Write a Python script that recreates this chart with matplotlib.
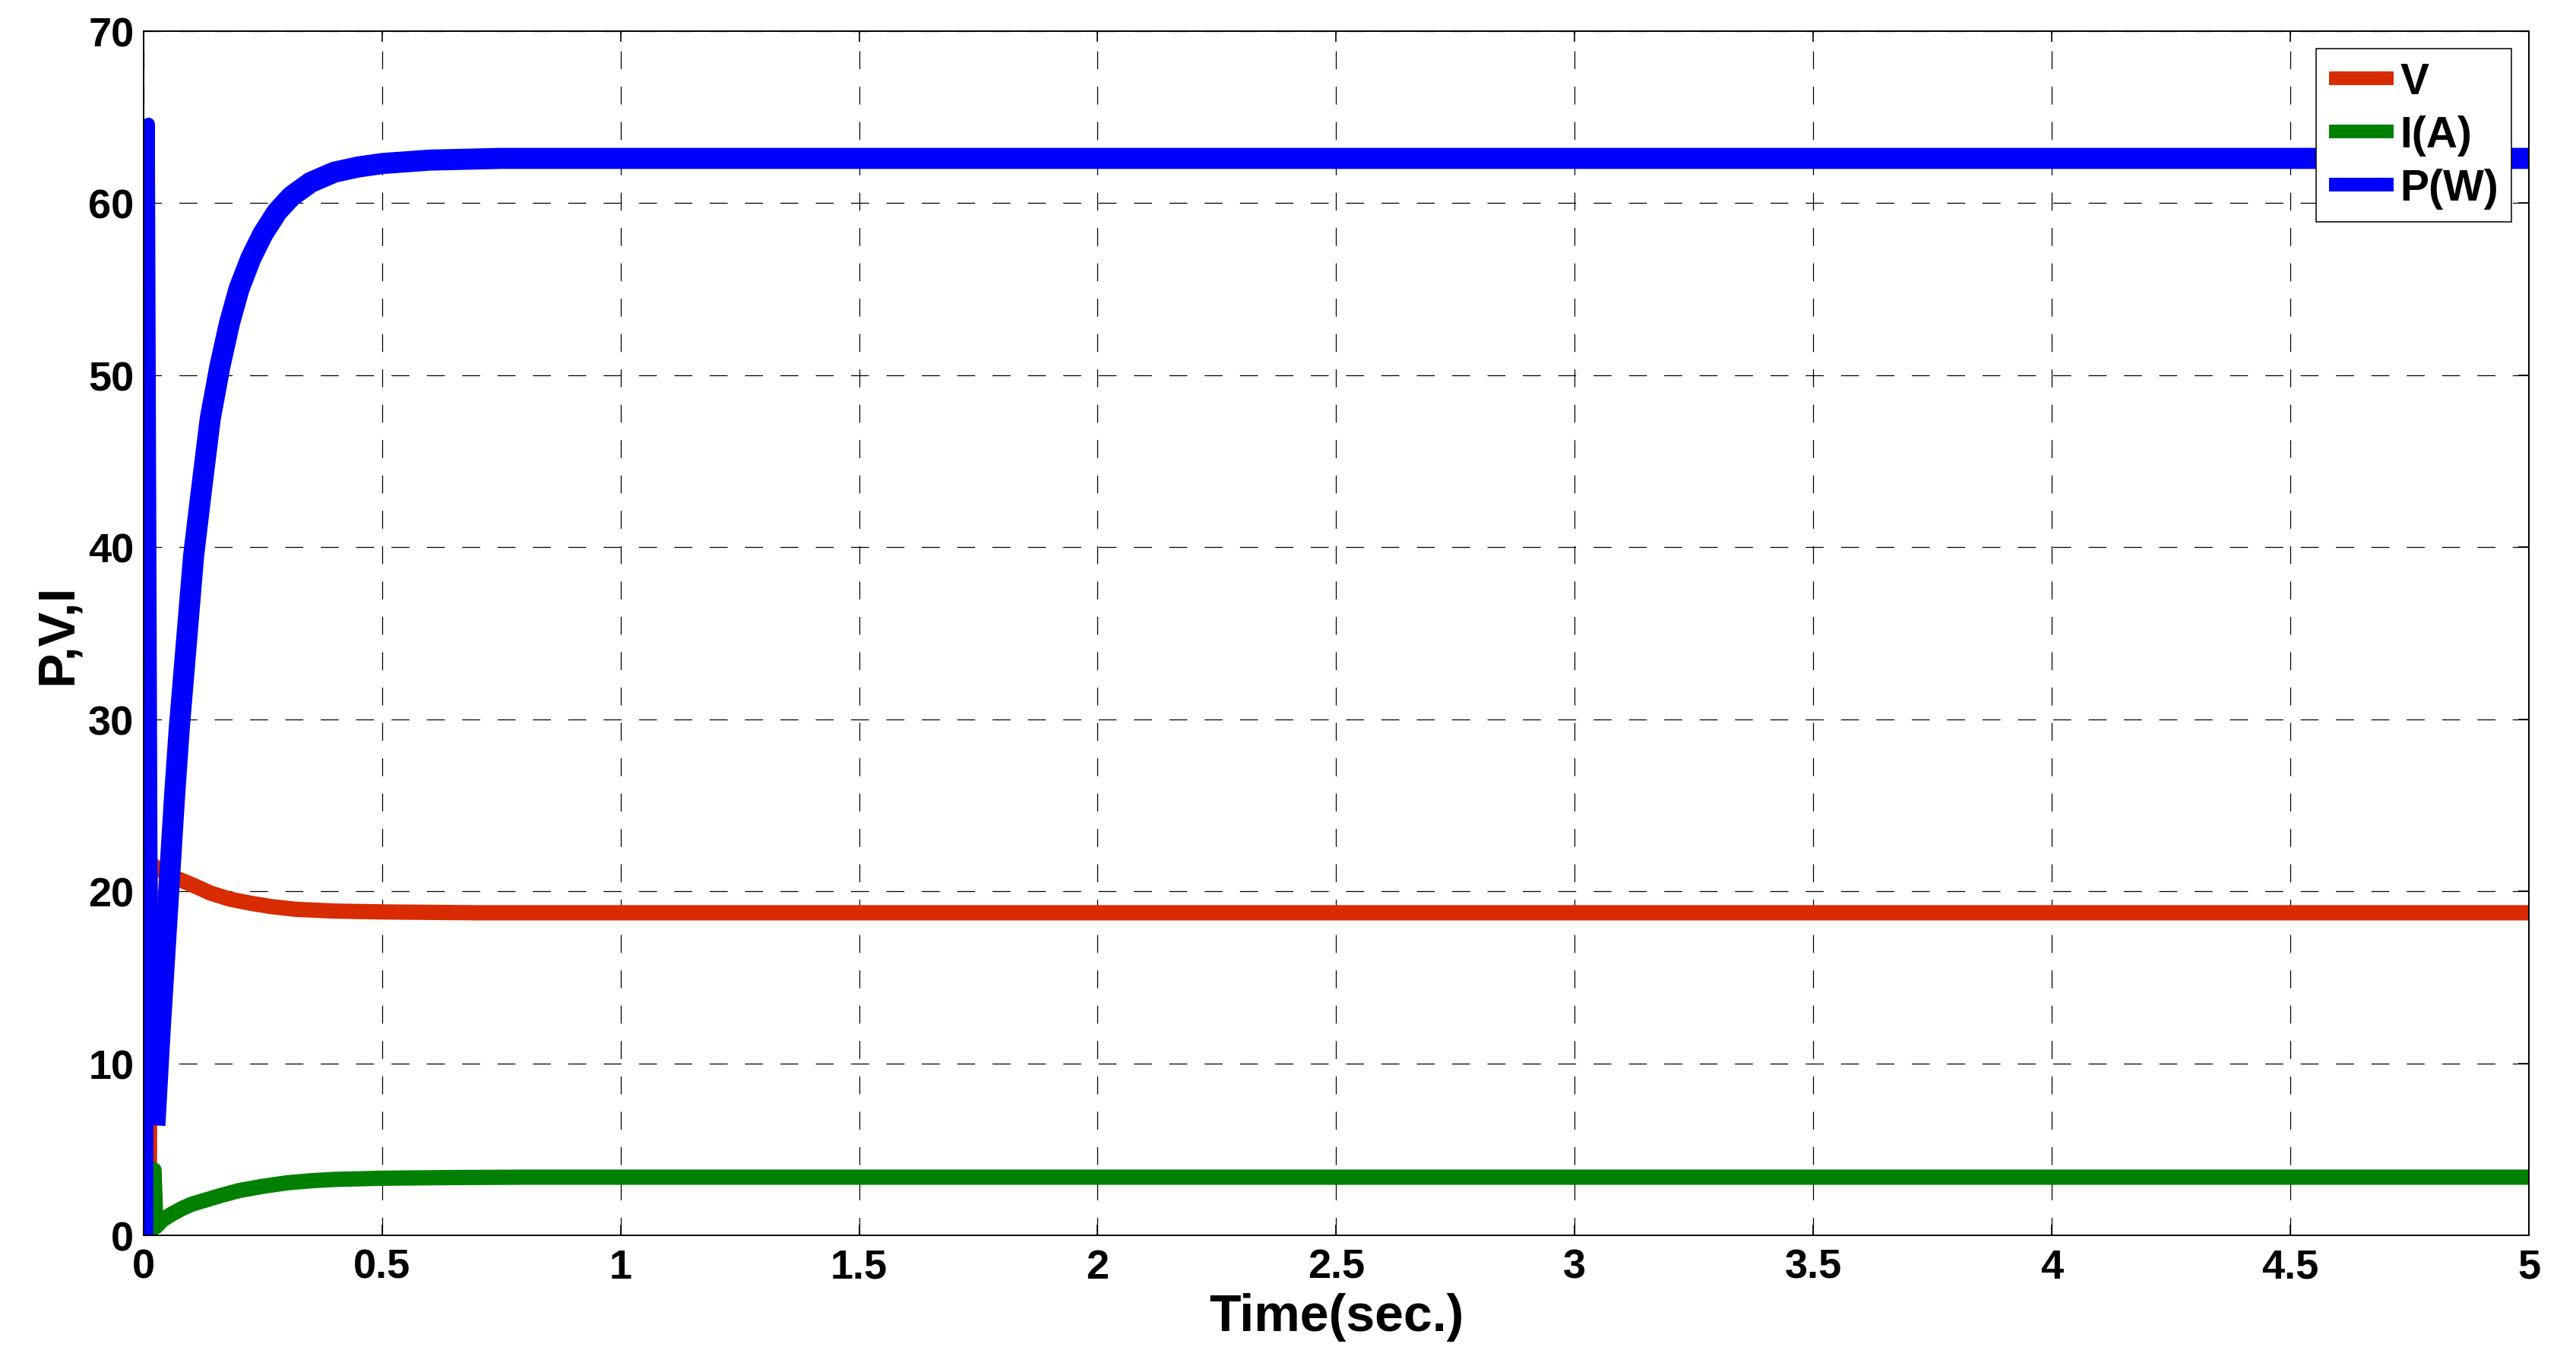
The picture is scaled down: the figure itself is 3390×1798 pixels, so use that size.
import matplotlib
matplotlib.use("Agg")
import matplotlib.pyplot as plt
import numpy as np

# values
t_p = [0.0, 0.007, 0.0105, 0.018, 0.025, 0.03, 0.035, 0.045, 0.055, 0.065,
       0.075, 0.09, 0.105, 0.12, 0.14, 0.16, 0.18, 0.2, 0.225, 0.25,
       0.28, 0.31, 0.35, 0.4, 0.45, 0.5, 0.6, 0.75, 1.5, 3.0, 5.0]
p_w = [0.0, 0.0, 64.6, 7.0, 7.0, 9.5, 12.0, 16.5, 21.0, 25.5,
       29.5, 34.5, 39.5, 43.0, 47.5, 50.5, 53.0, 55.0, 56.8, 58.2,
       59.5, 60.4, 61.2, 61.8, 62.1, 62.3, 62.5, 62.6, 62.6, 62.6, 62.6]

t_v = [0.012, 0.014, 0.02, 0.03, 0.065, 0.1, 0.14, 0.18, 0.225, 0.27,
       0.32, 0.4, 0.5, 0.7, 2.0, 5.0]
v_v = [0.0, 21.5, 21.5, 21.3, 20.8, 20.4, 19.9, 19.55, 19.3, 19.1,
       18.95, 18.85, 18.8, 18.75, 18.75, 18.75]

t_i = [0.014, 0.0145, 0.022, 0.026, 0.04, 0.06, 0.08, 0.1, 0.13, 0.16,
       0.2, 0.25, 0.3, 0.35, 0.4, 0.5, 0.65, 0.8, 2.0, 5.0]
i_a = [0.3, 3.9, 3.8, 0.5, 0.9, 1.25, 1.55, 1.8, 2.05, 2.3,
       2.6, 2.85, 3.05, 3.17, 3.25, 3.32, 3.36, 3.38, 3.38, 3.38]

xticks = [0, 0.5, 1, 1.5, 2, 2.5, 3, 3.5, 4, 4.5, 5]
xtick_labels = ["0", "0.5", "1", "1.5", "2", "2.5", "3", "3.5", "4", "4.5", "5"]
yticks = [0, 10, 20, 30, 40, 50, 60, 70]

plt.rcParams['font.family'] = ['Liberation Sans', 'DejaVu Sans']
plt.rcParams['font.weight'] = 'bold'
plt.rcParams['lines.scale_dashes'] = False

fig = plt.figure(figsize=(33.91, 17.99), dpi=100)
ax = fig.add_axes([0.0557, 0.0956, 0.9257, 0.8811])

red = '#d92b00'
green = '#008000'
blue = '#0000ff'

ax.plot(t_v, v_v, color=red, lw=14.5, solid_joinstyle='round', label='V')
ax.plot(t_i, i_a, color=green, lw=14.5, solid_joinstyle='round', label='I(A)')
# the spike is thinner, the settled power has ripple so looks thicker
ax.plot(t_p[:5], p_w[:5], color=blue, lw=12, solid_joinstyle='round',
        solid_capstyle='round')
ax.plot(t_p[4:], p_w[4:], color=blue, lw=20, solid_joinstyle='round',
        label='P(W)')

ax.set_xlim(0, 5)
ax.set_ylim(0, 70)
ax.set_xticks(xticks)
ax.set_xticklabels(xtick_labels)
ax.set_yticks(yticks)
ax.tick_params(direction='in', length=10, width=1.2, labelsize=39,
               top=True, right=True)
ax.tick_params(axis='x', pad=12)
ax.tick_params(axis='y', pad=9)

ax.grid(True, color='black', linewidth=0.9, linestyle=(0, (17, 16.5)))
for s in ax.spines.values():
    s.set_linewidth(1.4)

ax.set_xlabel('Time(sec.)', fontsize=49, fontweight='bold', labelpad=6)
ax.set_ylabel('P,V,I', fontsize=49, fontweight='bold', labelpad=6)

leg = ax.legend(loc='upper right', fontsize=41, fancybox=False, framealpha=1,
                edgecolor='black', borderaxespad=0.4, borderpad=0.3,
                handlelength=1.5, handletextpad=0.14, labelspacing=0.28)
leg.get_frame().set_linewidth(1.1)
for ln in leg.get_lines():
    ln.set_linewidth(13)
    ln.set_solid_capstyle('butt')

fig.savefig('out.png', dpi=100)
